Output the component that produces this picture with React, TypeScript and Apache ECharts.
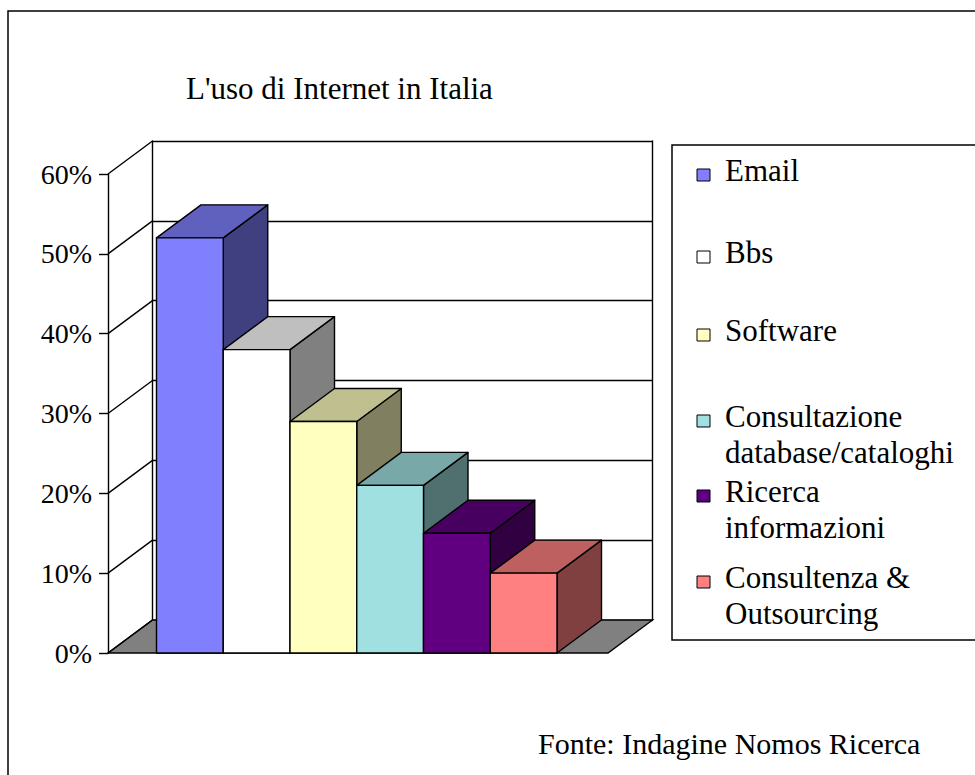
import React, { useEffect, useRef } from "react";
import * as echarts from "echarts";

// ---- data ----
const TITLE = "L'uso di Internet in Italia";
const SOURCE = "Fonte: Indagine Nomos Ricerca";
const SERIES_NAMES = [
  "Email",
  "Bbs",
  "Software",
  "Consultazione\ndatabase/cataloghi",
  "Ricerca\ninformazioni",
  "Consultenza &\nOutsourcing",
];
const SERIES_VALUES = [0.52, 0.38, 0.29, 0.21, 0.15, 0.1];
const SERIES_COLORS = ["#8080FF", "#FFFFFF", "#FFFFC0", "#A0E0E0", "#600080", "#FF8080"];
const Y_TICKS = [0, 0.1, 0.2, 0.3, 0.4, 0.5, 0.6];

// ---- layout / style ----
const W = 975;
const H = 775;
const BARS_LEFT = 156.5;
const BARS_RIGHT = 557;
const AXIS_GAP = 48.5; // front y axis sits this far left of the first column
const FLOOR_RIGHT_GAP = 51; // floor extends this far right of the last column
const PLOT_TOP = 174;
const PLOT_BOTTOM = 653;
const DX = 44.5; // depth offset of the 3D box
const DY = -33;
const FONT = "Liberation Serif";
const LINE = "#000000";
const LW = 1.4;
const FLOOR = "#808080";
const LEGEND_ICON_X = 697;
const LEGEND_TEXT_X = 725;
const LEGEND_ICON_TOPS = [169, 251, 329, 415, 490, 576];
const LEGEND_ICON_W = 13;
const LEGEND_ICON_H = 12;
const LEGEND_LINE_H = 36;
const LEGEND_FONT = 31;
const LEGEND_RAISE = 4.5; // first text line sits slightly above the icon centre

function shade(hex: string, k: number): string {
  const n = parseInt(hex.slice(1), 16);
  const r = Math.round(((n >> 16) & 255) * k);
  const g = Math.round(((n >> 8) & 255) * k);
  const b = Math.round((n & 255) * k);
  return `rgb(${r},${g},${b})`;
}

function legendGraphics(): any[] {
  const out: any[] = [];
  SERIES_NAMES.forEach((name, i) => {
    const top = LEGEND_ICON_TOPS[i];
    out.push({
      type: "rect",
      silent: true,
      z: 10,
      shape: { x: LEGEND_ICON_X, y: top, width: LEGEND_ICON_W, height: LEGEND_ICON_H },
      style: { fill: SERIES_COLORS[i], stroke: LINE, lineWidth: 1 },
    });
    name.split("\n").forEach((line, k) => {
      out.push({
        type: "text",
        silent: true,
        z: 10,
        x: LEGEND_TEXT_X,
        y: top + LEGEND_ICON_H / 2 - LEGEND_RAISE + k * LEGEND_LINE_H,
        style: {
          text: line,
          fill: "#000",
          font: `${LEGEND_FONT}px ${FONT}`,
          align: "left",
          verticalAlign: "middle",
        },
      });
    });
  });
  return out;
}

function buildOption(): echarts.EChartsOption {
  const yMin = Y_TICKS[0];
  const yMax = Y_TICKS[Y_TICKS.length - 1];
  const yStep = Y_TICKS[1] - Y_TICKS[0];
  const frontLeft = BARS_LEFT - AXIS_GAP;
  const frontRight = BARS_RIGHT + FLOOR_RIGHT_GAP;

  // 3D columns, one series per category
  const barSeries = SERIES_NAMES.map((name, i) => {
    const front = SERIES_COLORS[i];
    const top = shade(front, 0.75);
    const side = shade(front, 0.5);
    return {
      type: "custom",
      name,
      xAxisIndex: 0,
      yAxisIndex: 0,
      z: 3,
      itemStyle: { color: front, borderColor: LINE, borderWidth: 1 },
      data: [[i, SERIES_VALUES[i]]],
      renderItem: (_params: any, api: any) => {
        const idx = api.value(0);
        const v = api.value(1);
        const base = api.coord([idx, 0]);
        const peak = api.coord([idx, v]);
        const bw = api.size([1, 0])[0];
        const x0 = base[0] - bw / 2;
        const x1 = base[0] + bw / 2;
        const yb = base[1];
        const yt = peak[1];
        const st = { stroke: LINE, lineWidth: LW, lineJoin: "round" };
        return {
          type: "group",
          children: [
            {
              type: "polygon",
              shape: { points: [[x1, yb], [x1 + DX, yb + DY], [x1 + DX, yt + DY], [x1, yt]] },
              style: { fill: side, ...st },
            },
            {
              type: "polygon",
              shape: { points: [[x0, yt], [x1, yt], [x1 + DX, yt + DY], [x0 + DX, yt + DY]] },
              style: { fill: top, ...st },
            },
            {
              type: "rect",
              shape: { x: x0, y: yt, width: x1 - x0, height: yb - yt },
              style: { fill: front, ...st },
            },
          ],
        };
      },
    };
  });

  // floor and left side wall of the 3D box
  const frameSeries = {
    type: "custom",
    name: "frame",
    xAxisIndex: 0,
    yAxisIndex: 0,
    z: 1,
    silent: true,
    data: [[0, 0]],
    renderItem: (_params: any, api: any) => {
      const bw = api.size([1, 0])[0];
      const first = api.coord([0, 0]);
      const last = api.coord([SERIES_NAMES.length - 1, 0]);
      const fl = first[0] - bw / 2 - AXIS_GAP;
      const fr = last[0] + bw / 2 + FLOOR_RIGHT_GAP;
      const y0 = first[1];
      const children: any[] = [
        {
          type: "polygon",
          shape: { points: [[fl, y0], [fr, y0], [fr + DX, y0 + DY], [fl + DX, y0 + DY]] },
          style: { fill: FLOOR, stroke: LINE, lineWidth: LW },
        },
      ];
      Y_TICKS.forEach((t) => {
        const y = api.coord([0, t])[1];
        children.push({
          type: "line",
          shape: { x1: fl, y1: y, x2: fl + DX, y2: y + DY },
          style: { stroke: LINE, lineWidth: LW },
        });
      });
      return { type: "group", children };
    },
  };

  return {
    animation: false,
    backgroundColor: "#ffffff",
    title: [
      {
        text: TITLE,
        left: 186,
        top: 73,
        padding: 0,
        textStyle: { fontFamily: FONT, fontSize: 31, fontWeight: "normal", color: "#000" },
      },
      {
        text: SOURCE,
        left: 538,
        top: 728,
        padding: 0,
        textStyle: { fontFamily: FONT, fontSize: 30, fontWeight: "normal", color: "#000" },
      },
    ],
    graphic: [
      {
        type: "rect",
        silent: true,
        shape: { x: 8, y: 11, width: W + 100, height: H + 100 },
        style: { fill: "none", stroke: LINE, lineWidth: 1.5 },
        z: 0,
      },
      {
        type: "rect",
        silent: true,
        shape: { x: 672, y: 145, width: 400, height: 495 },
        style: { fill: "none", stroke: LINE, lineWidth: 1.5 },
        z: 0,
      },
      ...legendGraphics(),
    ],
    grid: [
      // front plane, where the columns stand
      { left: BARS_LEFT, right: W - BARS_RIGHT, top: PLOT_TOP, bottom: H - PLOT_BOTTOM },
      // back wall, shifted by the depth offset
      {
        left: frontLeft + DX,
        right: W - (frontRight + DX),
        top: PLOT_TOP + DY,
        bottom: H - PLOT_BOTTOM - DY,
      },
    ],
    xAxis: [
      { type: "category", gridIndex: 0, data: SERIES_NAMES, show: false, boundaryGap: true },
      { type: "category", gridIndex: 1, data: SERIES_NAMES, show: false },
    ],
    yAxis: [
      {
        type: "value",
        gridIndex: 0,
        min: yMin,
        max: yMax,
        interval: yStep,
        offset: AXIS_GAP,
        axisLine: { show: true, lineStyle: { color: LINE, width: LW } },
        axisTick: { show: true, length: 9, inside: false, lineStyle: { color: LINE, width: LW } },
        splitLine: { show: false },
        axisLabel: {
          margin: 16,
          fontFamily: FONT,
          fontSize: 28,
          color: "#000",
          formatter: (v: number) => `${Math.round(v * 100)}%`,
        },
      },
      {
        type: "value",
        gridIndex: 1,
        min: yMin,
        max: yMax,
        interval: yStep,
        axisLine: { show: true, lineStyle: { color: LINE, width: LW } },
        axisTick: { show: false },
        axisLabel: { show: false },
        splitLine: { show: true, lineStyle: { color: LINE, width: LW } },
      },
      {
        type: "value",
        gridIndex: 1,
        position: "right",
        min: yMin,
        max: yMax,
        interval: yStep,
        axisLine: { show: true, lineStyle: { color: LINE, width: LW } },
        axisTick: { show: false },
        axisLabel: { show: false },
        splitLine: { show: false },
      },
    ],
    series: [frameSeries, ...barSeries] as any,
  };
}

export default function App() {
  const ref = useRef<HTMLDivElement>(null);
  useEffect(() => {
    if (!ref.current) return;
    const chart = echarts.init(ref.current, undefined, { renderer: "svg" });
    chart.setOption(buildOption());
    return () => chart.dispose();
  }, []);
  return (
    <div
      ref={ref}
      style={{ position: "absolute", left: 0, top: 0, width: W, height: H, background: "#fff" }}
    />
  );
}
